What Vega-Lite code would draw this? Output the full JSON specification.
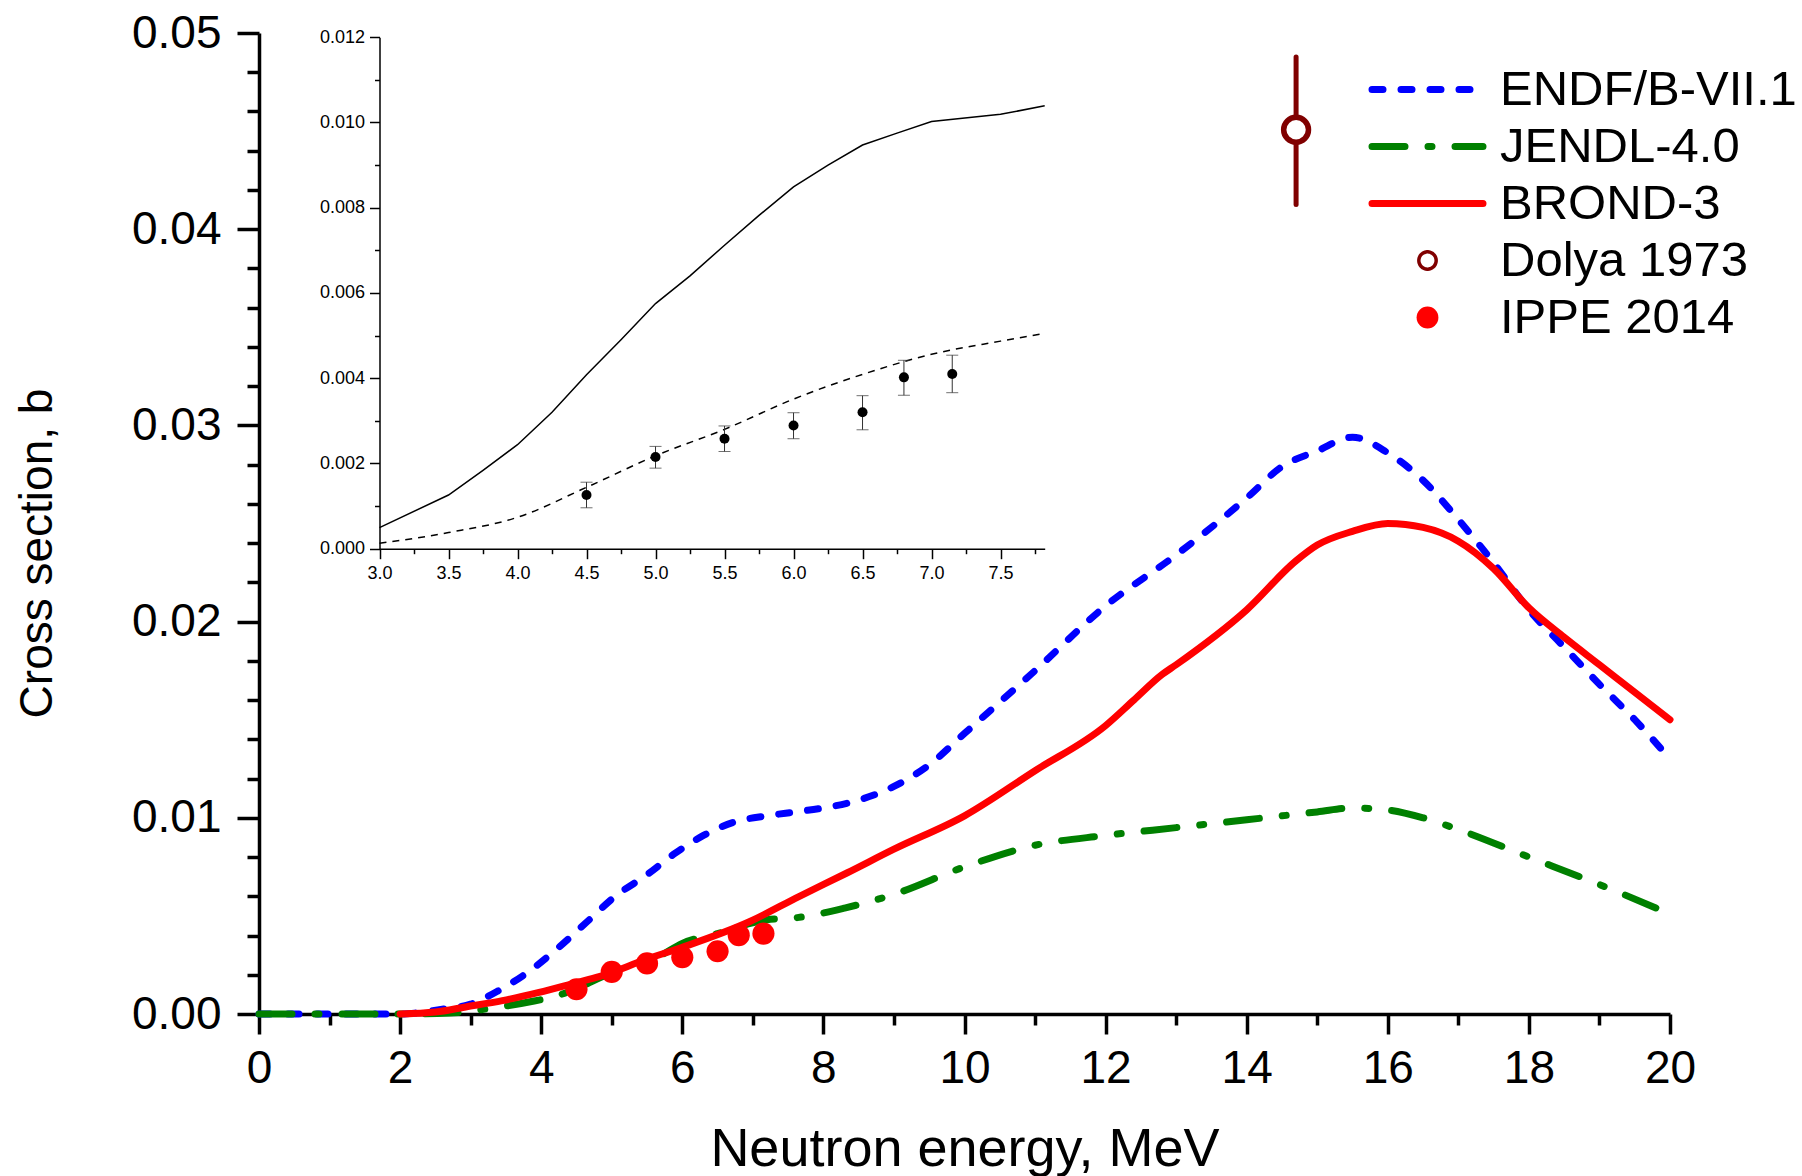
{
  "$schema": "https://vega.github.io/schema/vega-lite/v6.json",
  "width": 1411,
  "height": 981,
  "autosize": {"type": "none"},
  "padding": {"left": 259, "top": 33, "right": 132, "bottom": 162},
  "background": "white",
  "config": {
    "view": {"stroke": null},
    "axis": {"labelFont": "Liberation Sans", "titleFont": "Liberation Sans", "labelColor": "black", "titleColor": "black", "domainColor": "black", "tickColor": "black", "grid": false, "labelBound": false, "labelFlush": false, "labelOverlap": false, "titleFontWeight": "normal"}
  },
  "datasets": {
    "curves": [
      {"s": "ENDF/B-VII.1", "E": 0, "v": 0}, {"s": "ENDF/B-VII.1", "E": 1, "v": 0}, {"s": "ENDF/B-VII.1", "E": 2, "v": 0},
      {"s": "ENDF/B-VII.1", "E": 2.6, "v": 0.00025}, {"s": "ENDF/B-VII.1", "E": 3.0, "v": 0.0005}, {"s": "ENDF/B-VII.1", "E": 3.4, "v": 0.0012},
      {"s": "ENDF/B-VII.1", "E": 3.8, "v": 0.0021}, {"s": "ENDF/B-VII.1", "E": 4.25, "v": 0.0034}, {"s": "ENDF/B-VII.1", "E": 4.65, "v": 0.0047},
      {"s": "ENDF/B-VII.1", "E": 5.05, "v": 0.006}, {"s": "ENDF/B-VII.1", "E": 5.5, "v": 0.0071}, {"s": "ENDF/B-VII.1", "E": 5.9, "v": 0.0082},
      {"s": "ENDF/B-VII.1", "E": 6.3, "v": 0.0091}, {"s": "ENDF/B-VII.1", "E": 6.75, "v": 0.0098}, {"s": "ENDF/B-VII.1", "E": 7.2, "v": 0.0101},
      {"s": "ENDF/B-VII.1", "E": 7.6, "v": 0.0103}, {"s": "ENDF/B-VII.1", "E": 8.0, "v": 0.0105}, {"s": "ENDF/B-VII.1", "E": 8.4, "v": 0.0108},
      {"s": "ENDF/B-VII.1", "E": 9.0, "v": 0.0116}, {"s": "ENDF/B-VII.1", "E": 9.5, "v": 0.0127}, {"s": "ENDF/B-VII.1", "E": 10, "v": 0.0143},
      {"s": "ENDF/B-VII.1", "E": 11, "v": 0.0175}, {"s": "ENDF/B-VII.1", "E": 12, "v": 0.0208}, {"s": "ENDF/B-VII.1", "E": 13, "v": 0.0234},
      {"s": "ENDF/B-VII.1", "E": 14, "v": 0.0263}, {"s": "ENDF/B-VII.1", "E": 14.5, "v": 0.0279}, {"s": "ENDF/B-VII.1", "E": 15, "v": 0.0287},
      {"s": "ENDF/B-VII.1", "E": 15.5, "v": 0.0294}, {"s": "ENDF/B-VII.1", "E": 16, "v": 0.0286}, {"s": "ENDF/B-VII.1", "E": 16.5, "v": 0.0272},
      {"s": "ENDF/B-VII.1", "E": 17, "v": 0.0252}, {"s": "ENDF/B-VII.1", "E": 17.5, "v": 0.023}, {"s": "ENDF/B-VII.1", "E": 18, "v": 0.0206},
      {"s": "ENDF/B-VII.1", "E": 18.5, "v": 0.0187}, {"s": "ENDF/B-VII.1", "E": 19, "v": 0.0168}, {"s": "ENDF/B-VII.1", "E": 19.5, "v": 0.015},
      {"s": "ENDF/B-VII.1", "E": 20, "v": 0.013},
      {"s": "JENDL-4.0", "E": 0, "v": 0}, {"s": "JENDL-4.0", "E": 1, "v": 0}, {"s": "JENDL-4.0", "E": 2, "v": 0},
      {"s": "JENDL-4.0", "E": 2.7, "v": 0.00005}, {"s": "JENDL-4.0", "E": 3.3, "v": 0.0003}, {"s": "JENDL-4.0", "E": 3.9, "v": 0.00066},
      {"s": "JENDL-4.0", "E": 4.2, "v": 0.0009}, {"s": "JENDL-4.0", "E": 4.5, "v": 0.0013}, {"s": "JENDL-4.0", "E": 5.0, "v": 0.0021},
      {"s": "JENDL-4.0", "E": 5.25, "v": 0.0024}, {"s": "JENDL-4.0", "E": 5.7, "v": 0.003}, {"s": "JENDL-4.0", "E": 6.0, "v": 0.0036},
      {"s": "JENDL-4.0", "E": 6.5, "v": 0.0041}, {"s": "JENDL-4.0", "E": 7.2, "v": 0.0048}, {"s": "JENDL-4.0", "E": 7.6, "v": 0.0049},
      {"s": "JENDL-4.0", "E": 8.3, "v": 0.0054}, {"s": "JENDL-4.0", "E": 9, "v": 0.0061}, {"s": "JENDL-4.0", "E": 10, "v": 0.0075},
      {"s": "JENDL-4.0", "E": 11, "v": 0.0086}, {"s": "JENDL-4.0", "E": 12, "v": 0.0091}, {"s": "JENDL-4.0", "E": 13, "v": 0.0095},
      {"s": "JENDL-4.0", "E": 14, "v": 0.0099}, {"s": "JENDL-4.0", "E": 15, "v": 0.0103}, {"s": "JENDL-4.0", "E": 15.5, "v": 0.0105},
      {"s": "JENDL-4.0", "E": 16, "v": 0.0104}, {"s": "JENDL-4.0", "E": 16.5, "v": 0.01}, {"s": "JENDL-4.0", "E": 17, "v": 0.0094},
      {"s": "JENDL-4.0", "E": 18, "v": 0.008}, {"s": "JENDL-4.0", "E": 19, "v": 0.0066}, {"s": "JENDL-4.0", "E": 20, "v": 0.0051},
      {"s": "BROND-3", "E": 2.0, "v": 0}, {"s": "BROND-3", "E": 2.5, "v": 0.0001}, {"s": "BROND-3", "E": 2.93, "v": 0.00036},
      {"s": "BROND-3", "E": 3.45, "v": 0.00068}, {"s": "BROND-3", "E": 3.97, "v": 0.0011}, {"s": "BROND-3", "E": 4.5, "v": 0.0016},
      {"s": "BROND-3", "E": 4.82, "v": 0.0019}, {"s": "BROND-3", "E": 5.5, "v": 0.0028}, {"s": "BROND-3", "E": 6.0, "v": 0.0034},
      {"s": "BROND-3", "E": 6.95, "v": 0.0047}, {"s": "BROND-3", "E": 7.66, "v": 0.006}, {"s": "BROND-3", "E": 8.34, "v": 0.0072},
      {"s": "BROND-3", "E": 9, "v": 0.0084}, {"s": "BROND-3", "E": 10, "v": 0.0101}, {"s": "BROND-3", "E": 11, "v": 0.0124},
      {"s": "BROND-3", "E": 12, "v": 0.0147}, {"s": "BROND-3", "E": 12.4, "v": 0.016}, {"s": "BROND-3", "E": 12.8, "v": 0.0173},
      {"s": "BROND-3", "E": 13, "v": 0.0178}, {"s": "BROND-3", "E": 14, "v": 0.0206}, {"s": "BROND-3", "E": 14.7, "v": 0.0231},
      {"s": "BROND-3", "E": 15, "v": 0.0239}, {"s": "BROND-3", "E": 15.5, "v": 0.0246}, {"s": "BROND-3", "E": 16, "v": 0.025},
      {"s": "BROND-3", "E": 16.5, "v": 0.0248}, {"s": "BROND-3", "E": 17, "v": 0.0241}, {"s": "BROND-3", "E": 17.5, "v": 0.0227},
      {"s": "BROND-3", "E": 18, "v": 0.0207}, {"s": "BROND-3", "E": 18.5, "v": 0.0192}, {"s": "BROND-3", "E": 19, "v": 0.0178},
      {"s": "BROND-3", "E": 19.5, "v": 0.0164}, {"s": "BROND-3", "E": 20, "v": 0.015}
    ],
    "ippe": [
      {"s": "IPPE 2014", "E": 4.5, "v": 0.00126, "lo": 0.00096, "hi": 0.00156},
      {"s": "IPPE 2014", "E": 5.0, "v": 0.00215, "lo": 0.00189, "hi": 0.0024},
      {"s": "IPPE 2014", "E": 5.5, "v": 0.00258, "lo": 0.00228, "hi": 0.00288},
      {"s": "IPPE 2014", "E": 6.0, "v": 0.00289, "lo": 0.00258, "hi": 0.00319},
      {"s": "IPPE 2014", "E": 6.5, "v": 0.0032, "lo": 0.00279, "hi": 0.00359},
      {"s": "IPPE 2014", "E": 6.8, "v": 0.00402, "lo": 0.0036, "hi": 0.00442},
      {"s": "IPPE 2014", "E": 7.15, "v": 0.0041, "lo": 0.00366, "hi": 0.00454}
    ],
    "dolya": [
      {"s": "Dolya 1973", "E": 14.7, "v": 0.04507, "lo": 0.04126, "hi": 0.04878}
    ],
    "inset": [
      {"s": "solid", "E": 3.0, "v": 0.000494}, {"s": "solid", "E": 3.5, "v": 0.00126}, {"s": "solid", "E": 3.75, "v": 0.00184},
      {"s": "solid", "E": 4.0, "v": 0.00244}, {"s": "solid", "E": 4.25, "v": 0.0032}, {"s": "solid", "E": 4.5, "v": 0.00408},
      {"s": "solid", "E": 4.75, "v": 0.0049}, {"s": "solid", "E": 5.0, "v": 0.00575}, {"s": "solid", "E": 5.25, "v": 0.0064},
      {"s": "solid", "E": 5.5, "v": 0.00712}, {"s": "solid", "E": 5.75, "v": 0.00782}, {"s": "solid", "E": 6.0, "v": 0.00849},
      {"s": "solid", "E": 6.25, "v": 0.009}, {"s": "solid", "E": 6.5, "v": 0.00947}, {"s": "solid", "E": 6.75, "v": 0.00975},
      {"s": "solid", "E": 7.0, "v": 0.01002}, {"s": "solid", "E": 7.5, "v": 0.01019}, {"s": "solid", "E": 7.82, "v": 0.01039},
      {"s": "dashed", "E": 3.0, "v": 0.000126}, {"s": "dashed", "E": 3.5, "v": 0.000378}, {"s": "dashed", "E": 4.0, "v": 0.000737},
      {"s": "dashed", "E": 4.5, "v": 0.00144}, {"s": "dashed", "E": 5.0, "v": 0.00218}, {"s": "dashed", "E": 5.5, "v": 0.0028},
      {"s": "dashed", "E": 6.0, "v": 0.00351}, {"s": "dashed", "E": 6.5, "v": 0.00409}, {"s": "dashed", "E": 7.0, "v": 0.00456},
      {"s": "dashed", "E": 7.5, "v": 0.00487}, {"s": "dashed", "E": 7.82, "v": 0.00505}
    ]
  },
  "layer": [
    {
      "layer": [
        {
          "data": {"name": "curves"},
          "transform": [{"filter": "datum.s === 'ENDF/B-VII.1'"}],
          "mark": {"type": "line", "strokeWidth": 7, "strokeDash": [11, 18], "strokeCap": "round", "interpolate": "monotone"},
          "encoding": {
            "x": {"field": "E", "type": "quantitative", "scale": {"domain": [0, 20], "nice": false, "zero": false},
              "axis": {"orient": "bottom", "values": [0, 2, 4, 6, 8, 10, 12, 14, 16, 18, 20], "format": "d", "tickSize": 20, "tickWidth": 3.5, "domainWidth": 3.5, "labelFontSize": 46, "labelBaseline": "alphabetic", "labelPadding": 48, "title": "Neutron energy, MeV", "titleFontSize": 54, "titleBaseline": "alphabetic", "titleY": 151}},
            "y": {"field": "v", "type": "quantitative", "scale": {"domain": [0, 0.05], "nice": false, "zero": false},
              "axis": {"orient": "left", "values": [0, 0.01, 0.02, 0.03, 0.04, 0.05], "format": ".2f", "tickSize": 22, "tickWidth": 3.5, "domainWidth": 3.5, "labelFontSize": 46, "labelPadding": 16, "labelBaseline": "middle", "title": "Cross section, b", "titleFontSize": 46, "titleBaseline": "alphabetic", "titleAngle": -90, "titleX": -208, "titleY": 520, "titleAlign": "center"}},
            "color": {"field": "s", "type": "nominal",
              "scale": {"domain": ["ENDF/B-VII.1", "JENDL-4.0", "BROND-3", "Dolya 1973", "IPPE 2014"], "range": ["#0000ff", "#008000", "#ff0000", "#800000", "#ff0000"]},
              "legend": {
                "orient": "none", "legendX": 1144, "legendY": 32, "title": null,
                "labelFont": "Liberation Sans", "labelFontSize": 49, "labelColor": "black", "labelOffset": 48, "labelLimit": 1000,
                "rowPadding": 7, "padding": 0, "symbolType": "stroke", "symbolSize": 12321, "symbolStrokeWidth": 7,
                "encode": {"symbols": {"update": {
                  "shape": {"signal": "datum.value === 'Dolya 1973' || datum.value === 'IPPE 2014' ? 'circle' : 'stroke'"},
                  "size": {"signal": "datum.value === 'Dolya 1973' ? 300 : datum.value === 'IPPE 2014' ? 475 : 12321"},
                  "strokeWidth": {"signal": "datum.value === 'Dolya 1973' ? 3.5 : datum.value === 'IPPE 2014' ? 0 : 7"},
                  "strokeDash": {"signal": "datum.value === 'ENDF/B-VII.1' ? [11,18] : datum.value === 'JENDL-4.0' ? [33,23,4,23] : [1,0]"},
                  "strokeCap": {"value": "round"},
                  "fill": {"signal": "datum.value === 'IPPE 2014' ? '#ff0000' : datum.value === 'Dolya 1973' ? '#ffffff' : 'transparent'"},
                  "fillOpacity": {"signal": "datum.value === 'Dolya 1973' ? 0 : 1"},
                  "stroke": {"signal": "datum.value === 'ENDF/B-VII.1' ? '#0000ff' : datum.value === 'JENDL-4.0' ? '#008000' : datum.value === 'Dolya 1973' ? '#800000' : '#ff0000'"},
                  "opacity": {"value": 1}
                }}}
              }}
          }
        },
        {
          "data": {"name": "curves"},
          "transform": [{"filter": "datum.s === 'JENDL-4.0'"}],
          "mark": {"type": "line", "strokeWidth": 7, "strokeDash": [33, 23, 4, 23], "strokeCap": "round", "interpolate": "monotone"},
          "encoding": {
            "x": {"field": "E", "type": "quantitative",
              "axis": {"orient": "bottom", "values": [1, 3, 5, 7, 9, 11, 13, 15, 17, 19], "labels": false, "domain": false, "tickSize": 11, "tickWidth": 3.5, "title": null}},
            "y": {"field": "v", "type": "quantitative",
              "axis": {"orient": "left", "values": [0.002, 0.004, 0.006, 0.008, 0.012, 0.014, 0.016, 0.018, 0.022, 0.024, 0.026, 0.028, 0.032, 0.034, 0.036, 0.038, 0.042, 0.044, 0.046, 0.048], "labels": false, "domain": false, "tickSize": 12, "tickWidth": 3.5, "title": null}},
            "color": {"field": "s", "type": "nominal"}
          }
        },
        {
          "data": {"name": "curves"},
          "transform": [{"filter": "datum.s === 'BROND-3'"}],
          "mark": {"type": "line", "strokeWidth": 7, "strokeCap": "round", "interpolate": "monotone"},
          "encoding": {
            "x": {"field": "E", "type": "quantitative", "axis": null},
            "y": {"field": "v", "type": "quantitative", "axis": null},
            "color": {"field": "s", "type": "nominal"}
          }
        },
        {
          "data": {"name": "dolya"},
          "mark": {"type": "rule", "strokeWidth": 5, "strokeCap": "round"},
          "encoding": {
            "x": {"field": "E", "type": "quantitative", "axis": null},
            "y": {"field": "lo", "type": "quantitative", "axis": null},
            "y2": {"field": "hi"},
            "color": {"field": "s", "type": "nominal"}
          }
        },
        {
          "data": {"name": "dolya"},
          "mark": {"type": "point", "shape": "circle", "size": 616, "strokeWidth": 5.5, "filled": false, "fill": "white", "opacity": 1},
          "encoding": {
            "x": {"field": "E", "type": "quantitative", "axis": null},
            "y": {"field": "v", "type": "quantitative", "axis": null},
            "color": {"field": "s", "type": "nominal"}
          }
        },
        {
          "data": {"name": "ippe"},
          "mark": {"type": "point", "shape": "circle", "size": 490, "filled": true, "opacity": 1},
          "encoding": {
            "x": {"field": "E", "type": "quantitative", "axis": null},
            "y": {"field": "v", "type": "quantitative", "axis": null},
            "color": {"field": "s", "type": "nominal"}
          }
        }
      ],
      "resolve": {"axis": {"x": "independent", "y": "independent"}}
    },
    {
      "layer": [
        {
          "data": {"name": "inset"},
          "transform": [{"filter": "datum.s === 'solid'"}],
          "mark": {"type": "line", "strokeWidth": 1.5, "color": "black"},
          "encoding": {
            "x": {"field": "E", "type": "quantitative", "scale": {"domain": [3, 7.82], "range": [120.5, 785.7], "nice": false, "zero": false},
              "axis": {"orient": "bottom", "offset": -465.3, "values": [3, 3.5, 4, 4.5, 5, 5.5, 6, 6.5, 7, 7.5], "format": ".1f", "tickSize": 10, "tickWidth": 1.5, "domainWidth": 1.5, "labelFontSize": 18, "labelBaseline": "alphabetic", "labelPadding": 20, "title": null}},
            "y": {"field": "v", "type": "quantitative", "scale": {"domain": [0, 0.012], "range": [515.7, 4.2], "nice": false, "zero": false},
              "axis": {"orient": "left", "offset": -120.5, "values": [0, 0.002, 0.004, 0.006, 0.008, 0.01, 0.012], "format": ".3f", "tickSize": 10, "tickWidth": 1.5, "domainWidth": 1.5, "labelFontSize": 18, "labelPadding": 5, "labelBaseline": "middle", "title": null}}
          }
        },
        {
          "data": {"name": "inset"},
          "transform": [{"filter": "datum.s === 'dashed'"}],
          "mark": {"type": "line", "strokeWidth": 1.5, "color": "black", "strokeDash": [7, 6], "interpolate": "monotone"},
          "encoding": {
            "x": {"field": "E", "type": "quantitative",
              "axis": {"orient": "bottom", "offset": -465.3, "values": [3.25, 3.75, 4.25, 4.75, 5.25, 5.75, 6.25, 6.75, 7.25, 7.75], "labels": false, "domain": false, "tickSize": 5, "tickWidth": 1.5, "title": null}},
            "y": {"field": "v", "type": "quantitative",
              "axis": {"orient": "left", "offset": -120.5, "values": [0.001, 0.003, 0.005, 0.007, 0.009, 0.011], "labels": false, "domain": false, "tickSize": 5, "tickWidth": 1.5, "title": null}}
          }
        },
        {
          "data": {"name": "ippe"},
          "mark": {"type": "rule", "strokeWidth": 1, "color": "#333333"},
          "encoding": {
            "x": {"field": "E", "type": "quantitative", "axis": null},
            "y": {"field": "lo", "type": "quantitative", "axis": null},
            "y2": {"field": "hi"}
          }
        },
        {
          "data": {"name": "ippe"},
          "transform": [{"fold": ["lo", "hi"], "as": ["end", "ev"]}],
          "mark": {"type": "tick", "orient": "horizontal", "size": 12, "thickness": 1, "color": "#333333"},
          "encoding": {
            "x": {"field": "E", "type": "quantitative", "axis": null},
            "y": {"field": "ev", "type": "quantitative", "axis": null}
          }
        },
        {
          "data": {"name": "ippe"},
          "mark": {"type": "point", "shape": "circle", "size": 100, "filled": true, "color": "black", "opacity": 1},
          "encoding": {
            "x": {"field": "E", "type": "quantitative", "axis": null},
            "y": {"field": "v", "type": "quantitative", "axis": null}
          }
        }
      ],
      "resolve": {"axis": {"x": "independent", "y": "independent"}}
    }
  ],
  "resolve": {"scale": {"x": "independent", "y": "independent"}, "axis": {"x": "independent", "y": "independent"}}
}
